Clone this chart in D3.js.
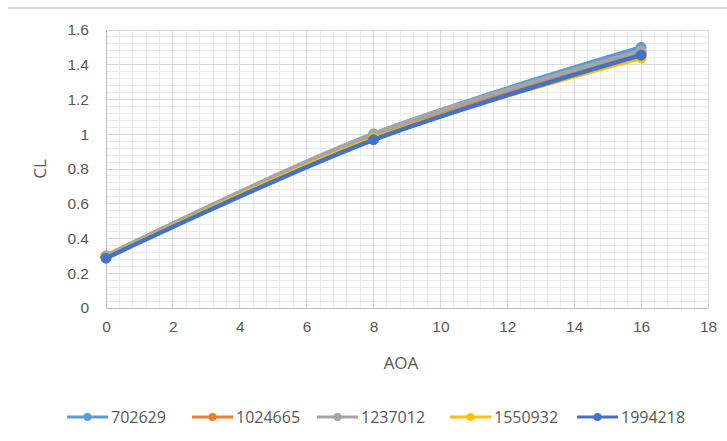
<!DOCTYPE html>
<html><head><meta charset="utf-8">
<script src="https://cdn.jsdelivr.net/npm/d3@7"></script>
<style>body{margin:0;background:#fff;}svg{display:block;font-family:"Open Sans","Liberation Sans",sans-serif;}</style>
</head><body><div id="chart"></div>
<script>
const aoa = [0, 8, 16];
const seriesNames = ["702629", "1024665", "1237012", "1550932", "1994218"];
const cl702629 = [0.300, 1.000, 1.500];
const cl1024665 = [0.292, 0.985, 1.470];
const cl1237012 = [0.298, 1.002, 1.480];
const cl1550932 = [0.290, 0.975, 1.440];
const cl1994218 = [0.287, 0.968, 1.455];
const seriesValues = [cl702629, cl1024665, cl1237012, cl1550932, cl1994218];
const colors = ["#5B9BD5", "#ED7D31", "#A5A5A5", "#FFC000", "#4472C4"];
const xTicks = [0, 2, 4, 6, 8, 10, 12, 14, 16, 18];
const yTicks = [0, 0.2, 0.4, 0.6, 0.8, 1, 1.2, 1.4, 1.6];

const W = 727, H = 441;
const svg = d3.select("#chart").append("svg").attr("width", W).attr("height", H);
const x = d3.scaleLinear().domain([0, 18]).range([106, 708]);
const y = d3.scaleLinear().domain([0, 1.6]).range([308, 30]);

// top frame line
svg.append("line").attr("x1", 8).attr("x2", W).attr("y1", 8).attr("y2", 8)
  .attr("stroke", "#d9d9d9").attr("stroke-width", 2);

// minor grid
const xMinor = d3.range(0, 18.001, 0.4);
const yMinor = d3.range(0, 1.6001, 0.04);
svg.append("g").selectAll("line").data(xMinor).join("line")
  .attr("x1", d => x(d)).attr("x2", d => x(d)).attr("y1", y(0)).attr("y2", y(1.6))
  .attr("stroke", "#ebebeb").attr("stroke-width", 1).attr("shape-rendering", "crispEdges");
svg.append("g").selectAll("line").data(yMinor).join("line")
  .attr("y1", d => y(d)).attr("y2", d => y(d)).attr("x1", x(0)).attr("x2", x(18))
  .attr("stroke", "#ebebeb").attr("stroke-width", 1).attr("shape-rendering", "crispEdges");
// major grid
svg.append("g").selectAll("line").data(xTicks).join("line")
  .attr("x1", d => x(d)).attr("x2", d => x(d)).attr("y1", y(0)).attr("y2", y(1.6))
  .attr("stroke", "#d9d9d9").attr("stroke-width", 1).attr("shape-rendering", "crispEdges");
svg.append("g").selectAll("line").data(yTicks).join("line")
  .attr("y1", d => y(d)).attr("y2", d => y(d)).attr("x1", x(0)).attr("x2", x(18))
  .attr("stroke", "#d9d9d9").attr("stroke-width", 1).attr("shape-rendering", "crispEdges");

// axes
const xAxis = d3.axisBottom(x).tickValues(xTicks).tickSize(0).tickPadding(13).tickFormat(d3.format("d"));
const gx = svg.append("g").attr("transform", `translate(0,${y(0)})`).call(xAxis);
gx.select(".domain").attr("stroke", "#bfbfbf");
gx.selectAll("text").attr("fill", "#595959").attr("font-size", 15.5);
const yAxis = d3.axisLeft(y).tickValues(yTicks).tickSize(0).tickPadding(17).tickFormat(d => String(+d.toFixed(1)));
const gy = svg.append("g").attr("transform", `translate(${x(0)},0)`).call(yAxis);
gy.select(".domain").attr("stroke", "#bfbfbf");
gy.selectAll("text").attr("fill", "#595959").attr("font-size", 15.5);

// axis titles
svg.append("text").attr("x", 401).attr("y", 369).attr("text-anchor", "middle")
  .attr("fill", "#595959").attr("font-size", 17).text("AOA");
svg.append("text").attr("transform", "translate(46,169) rotate(-90)").attr("text-anchor", "middle")
  .attr("fill", "#595959").attr("font-size", 17).text("CL");

// series
const line = d3.line().x(d => x(d[0])).y(d => y(d[1])).curve(d3.curveCatmullRom.alpha(0.5));
seriesValues.forEach((vals, i) => {
  const pts = aoa.map((a, j) => [a, vals[j]]);
  const g = svg.append("g");
  g.append("path").datum(pts).attr("d", line).attr("fill", "none")
    .attr("stroke", colors[i]).attr("stroke-width", 4.5).attr("stroke-linecap", "round");
  g.selectAll("circle").data(pts).join("circle")
    .attr("cx", d => x(d[0])).attr("cy", d => y(d[1])).attr("r", 5)
    .attr("fill", colors[i]).attr("stroke", colors[i]).attr("stroke-width", 1);
});

// legend
const legendX = [67, 192, 317, 450, 577];
const lg = svg.append("g");
seriesNames.forEach((name, i) => {
  const gx0 = legendX[i];
  lg.append("line").attr("x1", gx0).attr("x2", gx0 + 41).attr("y1", 417).attr("y2", 417)
    .attr("stroke", colors[i]).attr("stroke-width", 3);
  lg.append("circle").attr("cx", gx0 + 20.5).attr("cy", 417).attr("r", 4).attr("fill", colors[i]);
  lg.append("text").attr("x", gx0 + 44).attr("y", 423).attr("fill", "#595959")
    .attr("font-size", 16).text(name);
});
</script></body></html>
